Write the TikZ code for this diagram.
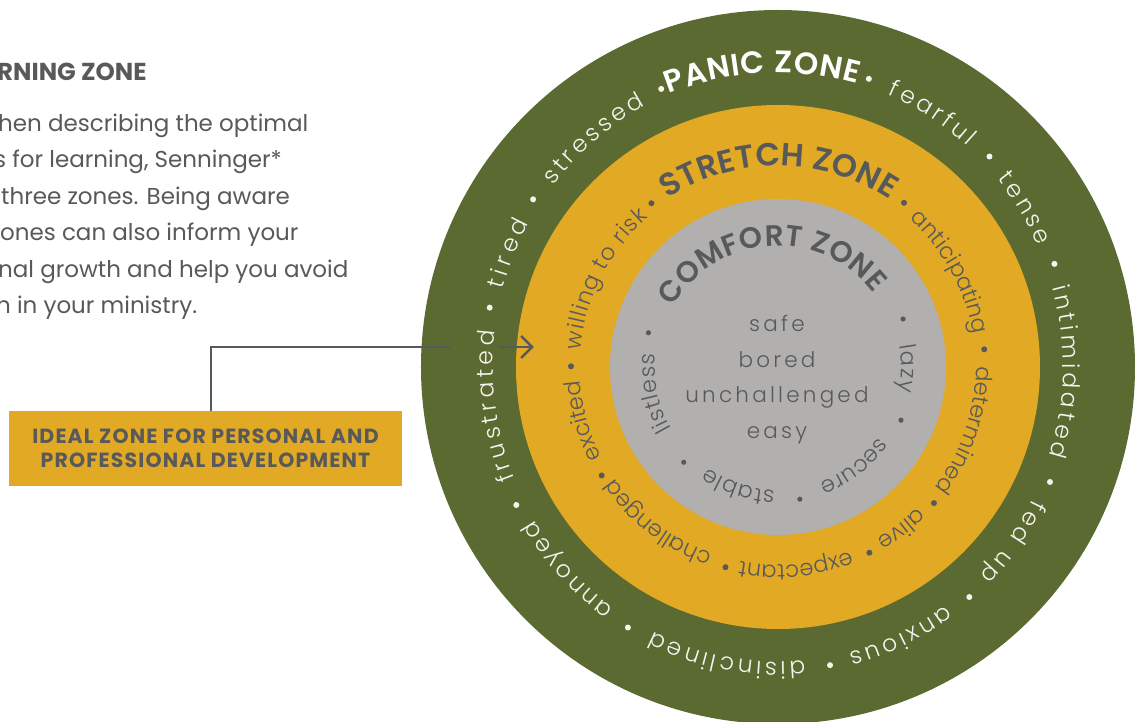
\documentclass[tikz,border=0pt]{standalone}
\usepackage{fontspec}
\setmainfont{Poppins}
\IfFontExistsTF{Poppins Light}{\def\LightName{Poppins Light}}{\def\LightName{Poppins}}
\IfFontExistsTF{Poppins SemiBold}{\def\HeadName{Poppins SemiBold}}{\def\HeadName{Poppins Bold}}
\newfontfamily\lightfont{\LightName}
\newfontfamily\spacedlight[LetterSpace=15]{\LightName}
\newfontfamily\headfont{\HeadName}
\newfontfamily\boxfont[LetterSpace=5.5]{Poppins Bold}
\usetikzlibrary{decorations.text,arrows.meta}

\definecolor{panicgreen}{HTML}{5B6A30}
\definecolor{stretchgold}{HTML}{E1A924}
\definecolor{comfortgray}{HTML}{B1B0AE}
\definecolor{inkgray}{HTML}{58595B}
\definecolor{ringwhite}{HTML}{F4F4F0}

% letter formats used on the rings
\newcommand\panicword{\lightfont\fontsize{23.5pt}{23.5pt}\selectfont\color{ringwhite}}
\newcommand\panictitle{\headfont\fontsize{31pt}{31pt}\selectfont\color{white}}
\newcommand\innerword{\lightfont\fontsize{22.5pt}{22.5pt}\selectfont\color{inkgray}}
\newcommand\innertitle{\headfont\fontsize{32pt}{32pt}\selectfont\color{inkgray}}
\newcommand\coretitle{\headfont\fontsize{29.5pt}{29.5pt}\selectfont\color{inkgray}}

% a word spread along an elliptical arc, running clockwise
% #1 x radius, #2 y radius, #3 start angle, #4 end angle, #5 format, #6 text
\newcommand\arcword[6]{%
  \path[decorate,decoration={text along path,text align={fit to path},text={|#5|#6}}]
    (#3:#1pt and #2pt) arc[start angle=#3,end angle=#4,x radius=#1pt,y radius=#2pt];}

\tikzset{
  connector/.style={draw=inkgray,line width=2.6pt},
  idealbox/.style={fill=stretchgold,minimum width=393pt,minimum height=75pt,inner sep=0pt,
    align=center,text=inkgray,font=\boxfont\fontsize{20.5pt}{24pt}\selectfont},
  bodyline/.style={anchor=base west,inner sep=0pt,text=inkgray,font=\fontsize{23pt}{23pt}\selectfont},
  centerword/.style={anchor=base,inner sep=0pt,text=inkgray,font=\spacedlight\fontsize{21.5pt}{21.5pt}\selectfont},
}

\begin{document}
\begin{tikzpicture}[x=1pt,y=1pt]
\useasboundingbox (-778,-355) rectangle (360,367);
\fill[white] (-778,-355) rectangle (360,367);

% the three zones
\fill[panicgreen] (0,0) circle[radius=357pt];
\fill[stretchgold] (0,0) circle[radius=262pt];
\fill[comfortgray] (0,0) circle[radius=168pt];

% panic zone ring
\arcword{294}{294}{111.8}{74.3}{\panictitle}{PANIC ZONE}
\arcword{285}{295}{142}{117.7}{\panicword}{stressed}
\arcword{285}{295}{67.3}{48.4}{\panicword}{fearful}
\arcword{285}{295}{39.7}{24.2}{\panicword}{tense}
\arcword{285}{295}{15.6}{-17.6}{\panicword}{intimidated}
\arcword{285}{295}{-26.6}{-44.9}{\panicword}{fed up}
\arcword{285}{295}{-53.9}{-75.6}{\panicword}{anxious}
\arcword{285}{295}{-84.6}{-116}{\panicword}{disinclined}
\arcword{285}{295}{-125.2}{-148.8}{\panicword}{annoyed}
\arcword{285}{295}{-157.7}{-187}{\panicword}{frustrated}
\arcword{285}{295}{-195.2}{-209.2}{\panicword}{tired}
\foreach \a in {113.4,72,44,19.9,-22.3,-49.4,-79.8,-120.7,-152.9,-191.3,-213.6}
  \fill[ringwhite] (\a:294pt and 303pt) circle[radius=3pt];

% stretch zone ring
\arcword{201}{201}{123.3}{56.3}{\innertitle}{STRETCH ZONE}
\arcword{198}{198}{48.5}{9.5}{\innerword}{anticipating}
\arcword{198}{198}{0.2}{-37.1}{\innerword}{determined}
\arcword{198}{198}{-45.2}{-59.4}{\innerword}{alive}
\arcword{198}{198}{-68.5}{-100.6}{\innerword}{expectant}
\arcword{198}{198}{-109.3}{-144.3}{\innerword}{challenged}
\arcword{198}{198}{-152.9}{-175.5}{\innerword}{excited}
\arcword{198}{198}{-184.9}{-229.2}{\innerword}{willing to risk}
\foreach \a in {127.7,52.5,4.9,-41.1,-63.8,-104.7,-148.4,-180.2}
  \fill[inkgray] (\a:207pt) circle[radius=3pt];

% comfort zone ring
\arcword{121}{121}{150}{37.5}{\coretitle}{COMFORT ZONE}
\arcword{123}{123}{10}{-11.5}{\innerword}{lazy}
\arcword{123}{123}{-35}{-69}{\innerword}{secure}
\arcword{123}{123}{-91.4}{-124.9}{\innerword}{stable}
\arcword{123}{123}{-150}{-186}{\innerword}{listless}
\foreach \a in {21,-23.4,-80.6,-134.7,-194.8}
  \fill[inkgray] (\a:134pt) circle[radius=2.6pt];

% words in the middle
\node[centerword] (safe) at (-1,35) {safe};
\node[centerword] (bored) at (-1,-0.5) {bored};
\node[centerword] (unchallenged) at (-1,-36) {unchallenged};
\node[centerword] (easy) at (-1,-71.5) {easy};

% text on the left
\node[anchor=base west,inner sep=0pt,text=inkgray,font=\bfseries\fontsize{24.5pt}{24.5pt}\selectfont] (heading) at (-781,286) {RNING ZONE};
\node[bodyline] (l1) at (-780,235.5) {hen describing the optimal};
\node[bodyline] (l2) at (-784,199) {s for learning, Senninger*};
\node[bodyline] (l3) at (-777,162.5) {three zones. Being aware};
\node[bodyline] (l4) at (-778,126) {ones can also inform your};
\node[bodyline] (l5) at (-780,89.5) {nal growth and help you avoid};
\node[bodyline] (l6) at (-782,53) {n in your ministry.};

% label box and its pointer into the stretch zone
\node[idealbox] (ideal) at (-572.5,-81.5) {IDEAL ZONE FOR PERSONAL AND\\PROFESSIONAL DEVELOPMENT};
\coordinate (bend) at (-567,20);
\coordinate (gapA) at (-327,20);
\coordinate (gapB) at (-279,20);
\coordinate (tip) at (-244,20);
\draw[connector] (ideal.north -| bend) -- (bend) -- (gapA);
\draw[connector,-{Straight Barb[length=11pt,width=22pt]}] (gapB) -- (tip);
\end{tikzpicture}
\end{document}
